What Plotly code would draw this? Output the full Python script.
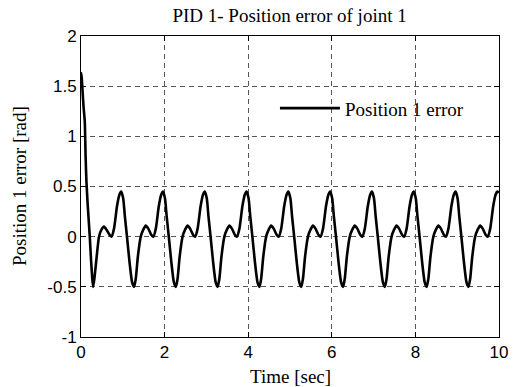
import plotly.graph_objects as go

# ---- data ----
time_s = [
    0.00, 0.01, 0.03, 0.06, 0.09, 0.11, 0.13, 0.16, 0.21, 0.24, 0.27, 0.29, 0.32, 0.37, 0.43, 0.49, 0.55, 0.61, 0.68, 0.73, 0.79, 0.86, 0.92, 0.96,
    1.01, 1.05, 1.10, 1.16, 1.22, 1.27, 1.31, 1.36, 1.43, 1.49, 1.55, 1.61, 1.68, 1.73, 1.79, 1.86, 1.92, 1.96,
    2.01, 2.05, 2.10, 2.16, 2.22, 2.27, 2.31, 2.36, 2.43, 2.49, 2.55, 2.61, 2.68, 2.73, 2.79, 2.86, 2.92, 2.96,
    3.01, 3.05, 3.10, 3.16, 3.22, 3.27, 3.31, 3.36, 3.43, 3.49, 3.55, 3.61, 3.68, 3.73, 3.79, 3.86, 3.92, 3.96,
    4.01, 4.05, 4.10, 4.16, 4.22, 4.27, 4.31, 4.36, 4.43, 4.49, 4.55, 4.61, 4.68, 4.73, 4.79, 4.86, 4.92, 4.96,
    5.01, 5.05, 5.10, 5.16, 5.22, 5.27, 5.31, 5.36, 5.43, 5.49, 5.55, 5.61, 5.68, 5.73, 5.79, 5.86, 5.92, 5.96,
    6.01, 6.05, 6.10, 6.16, 6.22, 6.27, 6.31, 6.36, 6.43, 6.49, 6.55, 6.61, 6.68, 6.73, 6.79, 6.86, 6.92, 6.96,
    7.01, 7.05, 7.10, 7.16, 7.22, 7.27, 7.31, 7.36, 7.43, 7.49, 7.55, 7.61, 7.68, 7.73, 7.79, 7.86, 7.92, 7.96,
    8.01, 8.05, 8.10, 8.16, 8.22, 8.27, 8.31, 8.36, 8.43, 8.49, 8.55, 8.61, 8.68, 8.73, 8.79, 8.86, 8.92, 8.96,
    9.01, 9.05, 9.10, 9.16, 9.22, 9.27, 9.31, 9.36, 9.43, 9.49, 9.55, 9.61, 9.68, 9.73, 9.79, 9.86, 9.92, 9.96,
    10.00,
]
position1_error = [
    1.60, 1.63, 1.50, 1.30, 1.15, 0.80, 0.55, 0.32, 0.00, -0.23, -0.42, -0.50, -0.42, -0.22, 0.00, 0.07, 0.10, 0.07, 0.02, 0.00, 0.08, 0.30, 0.42, 0.45,
    0.38, 0.20, 0.00, -0.25, -0.45, -0.50, -0.42, -0.20, 0.00, 0.07, 0.11, 0.08, 0.02, 0.00, 0.08, 0.30, 0.42, 0.45,
    0.38, 0.20, 0.00, -0.25, -0.45, -0.50, -0.42, -0.20, 0.00, 0.07, 0.11, 0.08, 0.02, 0.00, 0.08, 0.30, 0.42, 0.45,
    0.38, 0.20, 0.00, -0.25, -0.45, -0.50, -0.42, -0.20, 0.00, 0.07, 0.11, 0.08, 0.02, 0.00, 0.08, 0.30, 0.42, 0.45,
    0.38, 0.20, 0.00, -0.25, -0.45, -0.50, -0.42, -0.20, 0.00, 0.07, 0.11, 0.08, 0.02, 0.00, 0.08, 0.30, 0.42, 0.45,
    0.38, 0.20, 0.00, -0.25, -0.45, -0.50, -0.42, -0.20, 0.00, 0.07, 0.11, 0.08, 0.02, 0.00, 0.08, 0.30, 0.42, 0.45,
    0.38, 0.20, 0.00, -0.25, -0.45, -0.50, -0.42, -0.20, 0.00, 0.07, 0.11, 0.08, 0.02, 0.00, 0.08, 0.30, 0.42, 0.45,
    0.38, 0.20, 0.00, -0.25, -0.45, -0.50, -0.42, -0.20, 0.00, 0.07, 0.11, 0.08, 0.02, 0.00, 0.08, 0.30, 0.42, 0.45,
    0.38, 0.20, 0.00, -0.25, -0.45, -0.50, -0.42, -0.20, 0.00, 0.07, 0.11, 0.08, 0.02, 0.00, 0.08, 0.30, 0.42, 0.45,
    0.38, 0.20, 0.00, -0.25, -0.45, -0.50, -0.42, -0.20, 0.00, 0.07, 0.11, 0.08, 0.02, 0.00, 0.08, 0.30, 0.42, 0.45,
    0.44,
]
x_ticks = [0, 2, 4, 6, 8, 10]
x_tick_labels = ["0", "2", "4", "6", "8", "10"]
y_ticks = [-1, -0.5, 0, 0.5, 1, 1.5, 2]
y_tick_labels = ["-1", "-0.5", "0", "0.5", "1", "1.5", "2"]

SERIF = "Liberation Serif, Times New Roman, serif"
SANS = "Liberation Sans, Arial, sans-serif"

fig = go.Figure()
fig.add_trace(go.Scatter(
    x=time_s, y=position1_error, mode="lines", name="Position 1 error",
    line=dict(color="black", width=2.6, shape="spline", smoothing=0.5),
))

axis_common = dict(
    showline=True, linecolor="black", linewidth=1, mirror="allticks",
    ticks="inside", ticklen=5, tickcolor="black",
    showgrid=True, gridcolor="#555555", gridwidth=1, griddash="5px,4px",
    zeroline=False, automargin=False,
    tickfont=dict(family=SANS, size=17, color="black"),
)

fig.update_layout(
    width=518, height=387,
    margin=dict(l=81, r=19, t=36, b=50),
    paper_bgcolor="white", plot_bgcolor="white",
    title=dict(text="PID 1- Position error of joint 1", x=0.559, xanchor="center",
               y=1 - 22 / 387, yref="container", yanchor="bottom",
               font=dict(family=SERIF, size=19, color="black")),
    xaxis=dict(axis_common, range=[0, 10], tickvals=x_ticks, ticktext=x_tick_labels),
    yaxis=dict(axis_common, range=[-1, 2], tickvals=y_ticks, ticktext=y_tick_labels),
    showlegend=True,
    legend=dict(x=0.464, y=0.76, xanchor="left", yanchor="middle", bgcolor="rgba(0,0,0,0)",
                itemwidth=60,
                font=dict(family=SERIF, size=19, color="black")),
    annotations=[
        dict(text="Time [sec]", xref="paper", yref="paper", x=0.5, y=-0.13,
             xanchor="center", yanchor="middle", showarrow=False,
             font=dict(family=SERIF, size=19, color="black")),
        dict(text="Position 1 error [rad]", xref="paper", yref="paper", x=-0.147, y=0.5,
             xanchor="center", yanchor="middle", textangle=-90, showarrow=False,
             font=dict(family=SERIF, size=19, color="black")),
    ],
)

fig.write_html("out.html", config={"displayModeBar": False},
               post_script="document.body.style.margin='0';document.body.style.overflow='hidden';")
